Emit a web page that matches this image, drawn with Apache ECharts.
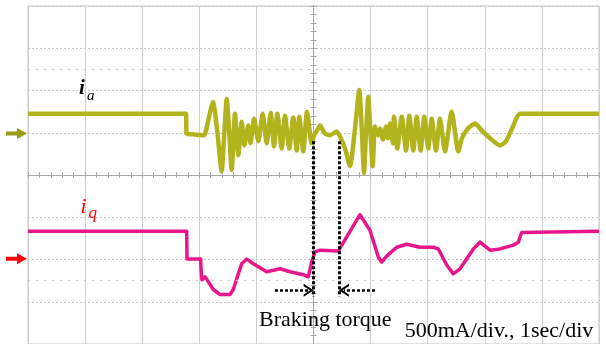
<!DOCTYPE html>
<html><head><meta charset="utf-8">
<script src="https://cdn.jsdelivr.net/npm/echarts@6/dist/echarts.min.js"></script>
<style>html,body{margin:0;padding:0;background:#fff}#c{width:606px;height:344px}</style>
</head><body><div id="c"></div>
<script>
// time in seconds relative to screen centre (1 sec/div), value in divisions (500 mA/div)
const iaTime = [-5.0,-2.233,-2.224,-2.075,-1.918,-1.883,-1.76,-1.69,-1.608,-1.567,-1.52,-1.48,-1.433,-1.375,-1.317,-1.257,-1.212,-1.142,-1.103,-1.042,-0.967,-0.89,-0.82,-0.75,-0.692,-0.634,-0.557,-0.499,-0.424,-0.354,-0.294,-0.249,-0.179,-0.114,-0.032,0.009,0.061,0.114,0.201,0.289,0.406,0.464,0.552,0.639,0.727,0.802,0.849,0.884,0.919,0.96,0.998,1.037,1.077,1.13,1.165,1.217,1.27,1.305,1.34,1.392,1.41,1.468,1.545,1.62,1.678,1.748,1.807,1.877,1.94,2.01,2.07,2.145,2.215,2.303,2.42,2.536,2.6,2.706,2.828,2.951,3.091,3.266,3.371,3.494,3.616,5.0];
const iaValue = [1.45,1.45,0.98,0.96,0.94,1.05,1.73,1.10,0.09,0.87,1.80,1.10,0.12,1.45,0.47,1.26,0.70,1.17,0.75,1.33,0.80,1.45,0.75,1.47,0.68,1.45,0.63,1.40,0.63,1.36,0.58,1.38,0.56,1.50,0.75,0.94,1.05,1.17,0.98,0.94,1.03,0.91,0.63,0.21,1.10,2.01,0.98,0.05,0.98,1.85,0.98,0.21,1.15,0.94,1.10,0.84,1.15,0.87,1.22,0.75,1.38,0.63,1.38,0.58,1.40,0.58,1.38,0.58,1.38,0.63,1.33,0.58,1.33,0.56,1.50,0.56,0.87,1.10,1.22,1.05,0.87,0.70,0.80,1.15,1.45,1.45];
const iqTime = [-5.0,-2.221,-2.215,-1.975,-1.97,-1.953,-1.9,-1.755,-1.637,-1.55,-1.462,-1.405,-1.317,-1.257,-1.17,-1.054,-0.82,-0.587,-0.411,-0.179,-0.091,-0.032,0.026,0.114,0.434,0.814,0.989,1.135,1.194,1.282,1.457,1.632,1.865,2.098,2.186,2.333,2.448,2.566,2.799,2.916,3.091,3.266,3.499,3.587,3.646,5.0];
const iqValue = [-1.33,-1.33,-1.99,-1.99,-2.22,-2.48,-2.41,-2.71,-2.83,-2.83,-2.83,-2.71,-2.34,-2.10,-1.99,-2.10,-2.29,-2.22,-2.29,-2.36,-2.41,-2.06,-1.82,-1.78,-1.80,-0.94,-1.31,-1.94,-2.06,-1.92,-1.71,-1.64,-1.71,-1.71,-1.75,-2.13,-2.34,-2.22,-1.75,-1.59,-1.78,-1.75,-1.66,-1.59,-1.36,-1.33];
const channelZero = [0.98, -1.98];    // ia, iq ground markers (div)
const brakeTimes = [0.0, 0.447];      // braking torque window (s)
const brakeTop = 0.8, brakeBottom = -2.875, arrowLevel = -2.73;
const arrowTails = [-0.674, 1.077];
const cursorLevels = [2.5, -2.5];

const chart = echarts.init(document.getElementById('c'), null, {renderer: 'canvas'});
const pair = (t, v) => t.map((x, i) => [x, v[i]]);
const serif = 'Liberation Serif, Times New Roman, serif';
const chevron = 'path://M0,10 L6.5,0 L13,10 L10.6,10 L6.5,3.6 L2.4,10 Z';
const headHalf = 0.085; // half chevron length in seconds

const xBase = {type:'value', min:-5, max:5, interval:1, axisLabel:{show:false},
  axisLine:{onZero:true, lineStyle:{color:'#a8a8a8', width:1}},
  axisTick:{show:true, length:3, lineStyle:{color:'#a8a8a8'}},
  minorTick:{show:true, splitNumber:5, length:3, lineStyle:{color:'#a8a8a8'}}};
const yBase = {type:'value', min:-4, max:4, interval:1, axisLabel:{show:false},
  axisLine:{onZero:true, lineStyle:{color:'#a8a8a8', width:1}},
  axisTick:{show:true, length:3, lineStyle:{color:'#a8a8a8'}},
  minorTick:{show:true, splitNumber:5, length:3, lineStyle:{color:'#a8a8a8'}}};

chart.setOption({
  animation:false,
  backgroundColor:'#fff',
  grid:{left:28, top:6, width:571, height:342, show:true, borderColor:'#c4c4c4', borderWidth:1},
  xAxis:[
    Object.assign({}, xBase, {position:'bottom', splitLine:{show:true, lineStyle:{color:'#cfcfcf', width:1}}}),
    Object.assign({}, xBase, {position:'top', splitLine:{show:false}})
  ],
  yAxis:[
    Object.assign({}, yBase, {position:'left', splitLine:{show:true, lineStyle:{color:'#c4c4c4', width:1, type:[2,2]}}}),
    Object.assign({}, yBase, {position:'right', splitLine:{show:false}})
  ],
  series:[
    {type:'line', name:'ia', data:pair(iaTime, iaValue), showSymbol:false, symbol:'none', smooth:0.2,
     lineStyle:{color:'#b3b31e', width:4.5, join:'round'}, z:3,
     markLine:{silent:true, symbol:'none', label:{show:false},
       lineStyle:{color:'#c8c8c8', width:1, type:[2,6]},
       data: cursorLevels.map(v => ({yAxis:v}))}},
    {type:'line', name:'iq', data:pair(iqTime, iqValue), showSymbol:false, symbol:'none',
     lineStyle:{color:'#e8168a', width:3.5, join:'round'}, z:4},
    {type:'line', name:'annot', data:[], z:6,
     markLine:{silent:true, label:{show:false}, animation:false,
       data:[
         [{coord:[brakeTimes[0], brakeTop], symbol:'none', lineStyle:{color:'#000', width:3, type:[3,2]}},
          {coord:[brakeTimes[0], brakeBottom], symbol:'none'}],
         [{coord:[brakeTimes[1], brakeTop], symbol:'none', lineStyle:{color:'#000', width:3, type:[3,2]}},
          {coord:[brakeTimes[1], brakeBottom], symbol:'none'}],
         [{coord:[arrowTails[0], arrowLevel], symbol:'none', lineStyle:{color:'#000', width:2.5, type:[3,2]}},
          {coord:[brakeTimes[0] - headHalf, arrowLevel], symbol:chevron, symbolSize:[13,10], itemStyle:{color:'#000'}}],
         [{coord:[arrowTails[1], arrowLevel], symbol:'none', lineStyle:{color:'#000', width:2.5, type:[3,2]}},
          {coord:[brakeTimes[1] + headHalf, arrowLevel], symbol:chevron, symbolSize:[13,10], itemStyle:{color:'#000'}}]
       ]}}
  ]
});

function marker(y, color){
  return {type:'polygon', z:10, shape:{points:[[6,y-2],[17,y-2],[17,y-5.5],[27,y],[17,y+5.5],[17,y+2],[6,y+2]]},
    style:{fill:color}};
}
const yIa = chart.convertToPixel({gridIndex:0}, [-5, channelZero[0]])[1];
const yIq = chart.convertToPixel({gridIndex:0}, [-5, channelZero[1]])[1];
function txt(x, y, s, size, color, style, align){
  return {type:'text', z:10, x:x, y:y, style:{text:s, fill:color, font:(style?style+' ':'')+size+'px '+serif,
    verticalAlign:'middle', align:align||'left'}};
}
chart.setOption({graphic:[
  marker(yIa, '#9a9a14'),
  marker(yIq, '#ff0000'),
  txt(79, 88.3, 'i', 21, '#000', 'italic bold'),
  txt(87, 95.6, 'a', 15, '#000', 'italic'),
  txt(80.5, 207, 'i', 21, '#ff0000', 'italic'),
  txt(88.5, 213.8, 'q', 17, '#ff0000', 'italic'),
  txt(259, 320.6, 'Braking torque', 22, '#000', ''),
  txt(404.7, 331.3, '500mA/div., 1sec/div', 22, '#000', '')
]});
</script></body></html>
